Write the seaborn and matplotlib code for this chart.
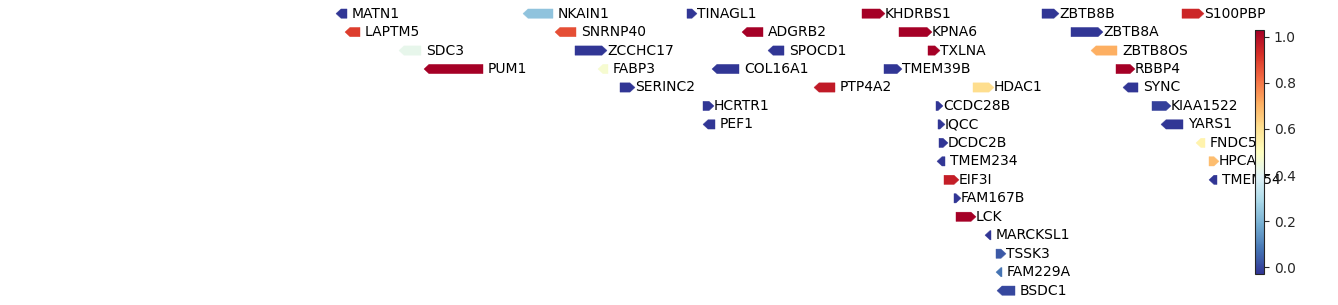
import numpy as np
import pandas as pd
import matplotlib
matplotlib.use("Agg")
import matplotlib.pyplot as plt
from matplotlib.patches import Polygon
import seaborn as sns

# ---- data (positions along the locus, track row, strand, score) ----
genes = ["MATN1", "LAPTM5", "SDC3", "PUM1",
         "NKAIN1", "SNRNP40", "ZCCHC17", "FABP3", "SERINC2",
         "TINAGL1", "ADGRB2", "SPOCD1", "COL16A1", "PTP4A2", "HCRTR1", "PEF1",
         "KHDRBS1", "KPNA6", "TXLNA", "TMEM39B", "HDAC1", "CCDC28B", "IQCC",
         "DCDC2B", "TMEM234", "EIF3I", "FAM167B", "LCK", "MARCKSL1", "TSSK3",
         "FAM229A", "BSDC1",
         "ZBTB8B", "S100PBP", "ZBTB8A", "ZBTB8OS", "RBBP4", "SYNC", "KIAA1522",
         "YARS1", "FNDC5", "HPCA", "TMEM54"]
starts = [341, 350, 404, 429,
          528, 560, 575, 603, 620,
          687, 747, 773, 717, 819, 703, 708,
          862, 899, 928, 884, 973, 936, 938,
          939, 942, 944, 954, 956, 990, 996,
          1001, 1002,
          1042, 1182, 1071, 1096, 1116, 1128, 1152,
          1166, 1201, 1209, 1214]
ends = [347, 360, 421, 483,
        553, 576, 602, 608, 630,
        692, 763, 784, 739, 835, 709, 715,
        880, 927, 935, 897, 989, 938, 940,
        943, 945, 954, 956, 971, 991, 1001,
        1002, 1015,
        1054, 1199, 1098, 1117, 1130, 1138, 1166,
        1183, 1205, 1214, 1217]
strands = ["-", "-", "-", "-",
           "-", "-", "+", "-", "+",
           "+", "-", "-", "-", "-", "+", "-",
           "+", "+", "+", "+", "+", "+", "+",
           "+", "-", "+", "+", "+", "-", "+",
           "-", "-",
           "+", "+", "+", "-", "+", "-", "+",
           "-", "-", "+", "-"]
rows = [0, 1, 2, 3,
        0, 1, 2, 3, 4,
        0, 1, 2, 3, 4, 5, 6,
        0, 1, 2, 3, 4, 5, 6,
        7, 8, 9, 10, 11, 12, 13,
        14, 15,
        0, 0, 1, 2, 3, 4, 5,
        6, 7, 8, 9]
scores = [-0.03, 0.90, 0.42, 1.03,
          0.235, 0.87, -0.03, 0.47, -0.03,
          -0.03, 1.03, -0.03, -0.03, 0.97, -0.03, -0.03,
          1.03, 1.03, 1.03, -0.03, 0.61, -0.03, -0.03,
          -0.03, -0.03, 0.96, -0.03, 1.03, -0.03, 0.03,
          0.076, 0.0,
          -0.03, 0.945, -0.03, 0.71, 1.03, -0.03, -0.01,
          -0.03, 0.54, 0.68, -0.03]

df = pd.DataFrame({"gene": genes, "start": starts, "end": ends,
                   "strand": strands, "row": rows, "score": scores})

sns.set_theme(style="white")
plt.rcParams["font.family"] = ["DejaVu Sans"]
cmap = sns.color_palette("RdYlBu_r", as_cmap=True)
norm = matplotlib.colors.Normalize(vmin=min(scores), vmax=max(scores))

W, H = 1338, 305
fig = plt.figure(figsize=(W / 100, H / 100), dpi=100)
ax = fig.add_axes([0, 0, 1, 1])
row_px = 18.47
top_px = 13.6
ax.set_xlim(0, W)
ax.set_ylim((H - top_px) / row_px, -top_px / row_px)
ax.axis("off")

head = 5.0
half = 0.25
for _, g in df.iterrows():
    y = g["row"]
    s, e = g["start"], g["end"]
    col = cmap(norm(g["score"]))
    if g["strand"] == "+":
        pts = [(s, y - half), (e, y - half), (e + head, y), (e, y + half), (s, y + half)]
    else:
        pts = [(s - head, y), (s, y - half), (e, y - half), (e, y + half), (s, y + half)]
    ax.add_patch(Polygon(pts, closed=True, facecolor=col, edgecolor=col, linewidth=0.3))
    ax.text(e + head, y, g["gene"], ha="left", va="center", fontsize=10, color="black")

cax = fig.add_axes([1255 / W, 31 / H, 9 / W, 244 / H])
sm = matplotlib.cm.ScalarMappable(norm=norm, cmap=cmap)
cb = fig.colorbar(sm, cax=cax)
cb.set_ticks([0, 0.2, 0.4, 0.6, 0.8, 1.0])
cb.ax.tick_params(labelsize=10, length=3.5, width=0.8, direction="out", right=True)
cb.outline.set_linewidth(0.8)

fig.savefig("out.png", dpi=100)
